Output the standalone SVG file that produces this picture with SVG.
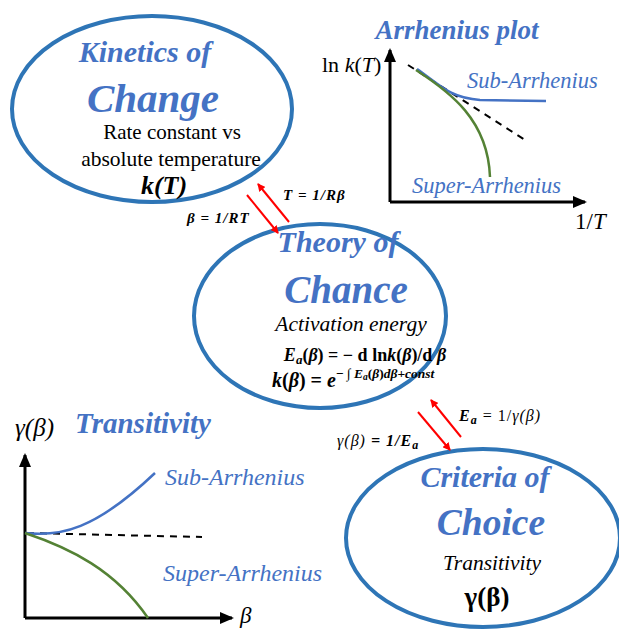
<svg xmlns="http://www.w3.org/2000/svg" width="619" height="630" viewBox="0 0 619 630" font-family="Liberation Serif, Times New Roman, serif">
<style>
.ell{fill:#fff;stroke:#2E75B6;stroke-width:4}
.ax{stroke:#000;stroke-width:3;fill:none}
.sub{stroke:#4472C4;stroke-width:2.5;fill:none}
.sup{stroke:#548235;stroke-width:2.5;fill:none}
.dash{stroke:#000;stroke-width:2;stroke-dasharray:7,6;fill:none}
.red{stroke:#FF0000;stroke-width:2;fill:none}
</style>
<defs>
<marker id="ah" markerWidth="8" markerHeight="8" refX="7" refY="4" orient="auto" markerUnits="userSpaceOnUse"><path d="M0,0 L8,4 L0,8 z" fill="#FF0000"/></marker>
<marker id="ax" markerWidth="14" markerHeight="12" refX="12" refY="6" orient="auto" markerUnits="userSpaceOnUse"><path d="M0,0 L14,6 L0,12 z" fill="#000"/></marker>
</defs>
<rect width="619" height="630" fill="#fff"/>

<g id="arrhenius-plot">
<text x="457" y="39" fill="#4472C4" font-style="italic" font-weight="bold" font-size="27" text-anchor="middle">Arrhenius plot</text>
<text x="322" y="72" font-size="22">ln <tspan font-style="italic">k</tspan>(<tspan font-style="italic">T</tspan>)</text>
<line x1="390" y1="202" x2="390" y2="50" class="ax" marker-end="url(#ax)"/>
<line x1="390" y1="202" x2="585" y2="202" class="ax" marker-end="url(#ax)"/>
<text x="575" y="229" font-size="23">1/<tspan font-style="italic">T</tspan></text>
<line x1="408" y1="65" x2="525" y2="140" class="dash"/>
<path d="M417,69 C440,85 450,98 480,100 L546,101" class="sub"/>
<path d="M416,70 C450,92 488,120 490,177" class="sup"/>
<text x="467" y="88" fill="#4472C4" font-style="italic" font-size="22.5">Sub-Arrhenius</text>
<text x="412" y="193" fill="#4472C4" font-style="italic" font-size="22.5">Super-Arrhenius</text>
</g>

<g id="transitivity-plot">
<text x="143" y="433" fill="#4472C4" font-style="italic" font-weight="bold" font-size="29" text-anchor="middle">Transitivity</text>
<text x="15" y="436" font-style="italic" font-size="25">γ(β)</text>
<line x1="25" y1="618" x2="25" y2="455" class="ax" marker-end="url(#ax)"/>
<line x1="25" y1="618" x2="232" y2="618" class="ax" marker-end="url(#ax)"/>
<text x="240" y="623" font-style="italic" font-size="23">β</text>
<line x1="27" y1="533" x2="202" y2="537" class="dash"/>
<path d="M25,533 C60,537 95,530 155,473" class="sub"/>
<path d="M25,533 C70,548 115,570 148,618" class="sup"/>
<text x="165" y="485" fill="#4472C4" font-style="italic" font-size="24">Sub-Arrhenius</text>
<text x="163" y="581" fill="#4472C4" font-style="italic" font-size="24">Super-Arrhenius</text>
</g>

<g id="kinetics">
<ellipse cx="152" cy="109" rx="140" ry="93" class="ell"/>
<text x="145" y="62" fill="#4472C4" font-style="italic" font-weight="bold" font-size="30" text-anchor="middle">Kinetics of</text>
<text x="153" y="112" fill="#4472C4" font-style="italic" font-weight="bold" font-size="41" text-anchor="middle">Change</text>
<text x="172" y="139" font-size="21" text-anchor="middle">Rate constant vs</text>
<text x="171" y="166" font-size="21.5" text-anchor="middle">absolute temperature</text>
<text x="164" y="194" font-style="italic" font-weight="bold" font-size="26" text-anchor="middle">k(T)</text>
</g>

<g id="theory">
<ellipse cx="320" cy="316" rx="126" ry="92" class="ell"/>
<text x="338" y="252" fill="#4472C4" font-style="italic" font-weight="bold" font-size="30" text-anchor="middle">Theory of</text>
<text x="346" y="303" fill="#4472C4" font-style="italic" font-weight="bold" font-size="39" text-anchor="middle">Chance</text>
<text x="351" y="331" font-style="italic" font-size="21.5" text-anchor="middle">Activation energy</text>
<text x="365" y="361" font-weight="bold" font-size="18" text-anchor="middle"><tspan font-style="italic">E</tspan><tspan font-style="italic" font-size="13" dy="3">a</tspan><tspan dy="-3">(</tspan><tspan font-style="italic">β</tspan>) = − d ln<tspan font-style="italic">k</tspan>(<tspan font-style="italic">β</tspan>)/d <tspan font-style="italic">β</tspan></text>
<text x="272" y="387" font-weight="bold" font-size="20"><tspan font-style="italic">k</tspan>(<tspan font-style="italic">β</tspan>) = <tspan font-style="italic">e</tspan><tspan font-size="13.5" dy="-9">− ∫ <tspan font-style="italic">E</tspan><tspan font-size="9.5" font-style="italic" dy="2">a</tspan><tspan dy="-2">(</tspan><tspan font-style="italic">β</tspan>)<tspan font-style="italic">dβ</tspan>+<tspan font-style="italic">const</tspan></tspan></text>
</g>

<g id="choice">
<ellipse cx="483" cy="538" rx="137" ry="89" class="ell"/>
<text x="485" y="487" fill="#4472C4" font-style="italic" font-weight="bold" font-size="30" text-anchor="middle">Criteria of</text>
<text x="491" y="535" fill="#4472C4" font-style="italic" font-weight="bold" font-size="37.5" text-anchor="middle">Choice</text>
<text x="492" y="570" font-style="italic" font-size="21.5" text-anchor="middle">Transitivity</text>
<text x="487" y="606" font-weight="bold" font-size="27" text-anchor="middle">γ(β)</text>
</g>

<g id="connectors">
<line x1="247" y1="195" x2="278" y2="233" class="red" marker-end="url(#ah)"/>
<line x1="289" y1="222" x2="258" y2="184" class="red" marker-end="url(#ah)"/>
<line x1="418" y1="412" x2="450" y2="450" class="red" marker-end="url(#ah)"/>
<line x1="461" y1="437" x2="431" y2="400" class="red" marker-end="url(#ah)"/>
<text x="283" y="200" font-style="italic" font-weight="bold" font-size="15" letter-spacing="1">T = 1/Rβ</text>
<text x="187" y="223" font-style="italic" font-weight="bold" font-size="15" letter-spacing="1">β = 1/RT</text>
<text x="459" y="421" font-style="italic" font-weight="bold" font-size="16" letter-spacing="1">E<tspan font-size="12" dy="3">a</tspan><tspan dy="-3" font-weight="normal" font-style="normal"> = 1/</tspan><tspan font-weight="normal">γ(β)</tspan></text>
<text x="337" y="446" font-style="italic" font-weight="bold" font-size="16" letter-spacing="1"><tspan font-weight="normal">γ(β)</tspan> = 1/E<tspan font-size="12" dy="3">a</tspan></text>
</g>
</svg>
